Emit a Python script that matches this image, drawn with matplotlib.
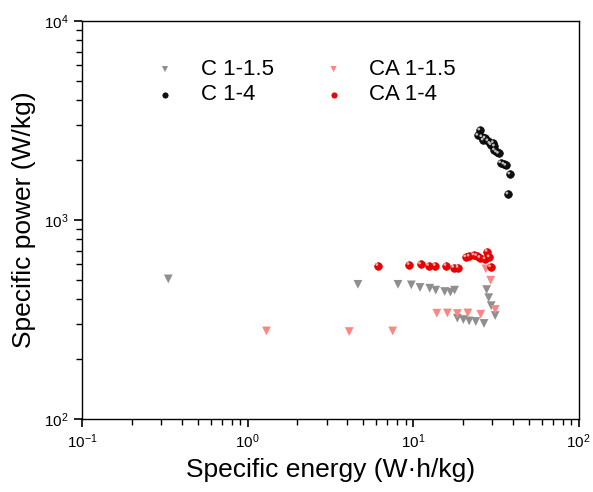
import matplotlib
matplotlib.use("Agg")
import matplotlib.pyplot as plt
from matplotlib.transforms import ScaledTranslation
from matplotlib.ticker import NullFormatter, FixedLocator

plt.rcParams['font.family'] = ['Liberation Sans', 'DejaVu Sans']

# C 1-1.5 (gray triangles)
c15_energy = [0.332, 4.64, 8.10, 9.75, 11.0, 12.6, 13.7, 15.5, 16.8, 17.8,
              27.8, 28.6, 29.6, 31.3, 18.5, 20.1, 21.8, 23.9, 26.8]
c15_power = [506, 475, 475, 472, 458, 454, 444, 437, 434, 444,
             447, 407, 371, 331, 321, 316, 311, 309, 302]

# CA 1-1.5 (pink triangles)
ca15_energy = [1.30, 4.11, 7.52, 13.9, 16.1, 18.5, 21.4, 25.6, 31.3, 29.4, 27.5]
ca15_power = [277, 275, 277, 340, 341, 339, 341, 336, 355, 498, 568]

# C 1-4 (black circles)
c4_energy = [25.3, 24.6, 26.0, 27.2, 26.5, 28.3, 29.1, 30.5, 29.6, 31.0,
             31.0, 31.9, 32.8, 33.8, 35.3, 36.3, 38.4, 37.4]
c4_power = [2830, 2660, 2618, 2579, 2520, 2500, 2425, 2443, 2387, 2350,
            2244, 2193, 2160, 1937, 1909, 1880, 1700, 1349]

# CA 1-4 (red circles)
ca4_energy = [6.13, 9.47, 11.1, 12.4, 13.6, 15.8, 17.6, 18.7, 20.8, 21.8,
              23.3, 24.2, 25.3, 27.2, 28.8, 28.0, 29.4]
ca4_power = [590, 596, 600, 590, 590, 590, 577, 577, 652, 657,
             667, 662, 647, 637, 652, 694, 581]

x_major = [0.1, 1, 10, 100]
y_major = [100, 1000, 10000]

fig = plt.figure(figsize=(5.93, 4.92), dpi=100)
ax = fig.add_axes([0.1383, 0.1484, 0.8376, 0.8089])
ax.set_xscale('log')
ax.set_yscale('log')

gray = '#8f8f8f'
pink = '#ff8585'

ax.scatter(c15_energy, c15_power, marker='v', s=40, color=gray, edgecolors='none', label='C 1-1.5', zorder=3)
ax.scatter(c4_energy, c4_power, marker='o', s=30, color='#111111', edgecolors='#000000', linewidths=0.5, label='C 1-4', zorder=4)
ax.scatter(ca15_energy, ca15_power, marker='v', s=40, color=pink, edgecolors='none', label='CA 1-1.5', zorder=3)
ax.scatter(ca4_energy, ca4_power, marker='o', s=30, color='#ee0000', edgecolors='#cc0000', linewidths=0.5, label='CA 1-4', zorder=4)

# highlight on spheres
off = ax.transData + ScaledTranslation(-0.8 / 72, 0.8 / 72, fig.dpi_scale_trans)
ax.scatter(c4_energy, c4_power, marker='o', s=4, color='#bbbbbb', edgecolors='none', transform=off, zorder=5)
ax.scatter(ca4_energy, ca4_power, marker='o', s=4, color='#ffaaaa', edgecolors='none', transform=off, zorder=5)

leg = ax.legend(ncol=2, loc='upper left', bbox_to_anchor=(0.10, 0.955), frameon=False,
                fontsize=16, markerscale=0.7, handletextpad=1.0, columnspacing=2.1,
                labelspacing=0.2, handlelength=1.2)

ax.set_xlim(0.1, 100)
ax.set_ylim(100, 10000)
x_minor = [m * d for d in x_major[:-1] for m in range(2, 10)]
y_minor = [m * d for d in y_major[:-1] for m in range(2, 10)]
ax.xaxis.set_major_locator(FixedLocator(x_major))
ax.yaxis.set_major_locator(FixedLocator(y_major))
ax.xaxis.set_minor_locator(FixedLocator(x_minor))
ax.yaxis.set_minor_locator(FixedLocator(y_minor))
ax.xaxis.set_minor_formatter(NullFormatter())
ax.yaxis.set_minor_formatter(NullFormatter())

ax.tick_params(axis='both', which='major', direction='out', length=6, width=1.2,
               colors='black', labelsize=11, top=False, right=False)
ax.tick_params(axis='both', which='minor', direction='out', length=4, width=1.0,
               colors='black', top=False, right=False)
for sp in ax.spines.values():
    sp.set_linewidth(1.0)

ax.set_xlabel('Specific energy (W·h/kg)', fontsize=19, labelpad=5)
ax.set_ylabel('Specific power (W/kg)', fontsize=19, labelpad=6)

fig.savefig('out.png', dpi=100)
